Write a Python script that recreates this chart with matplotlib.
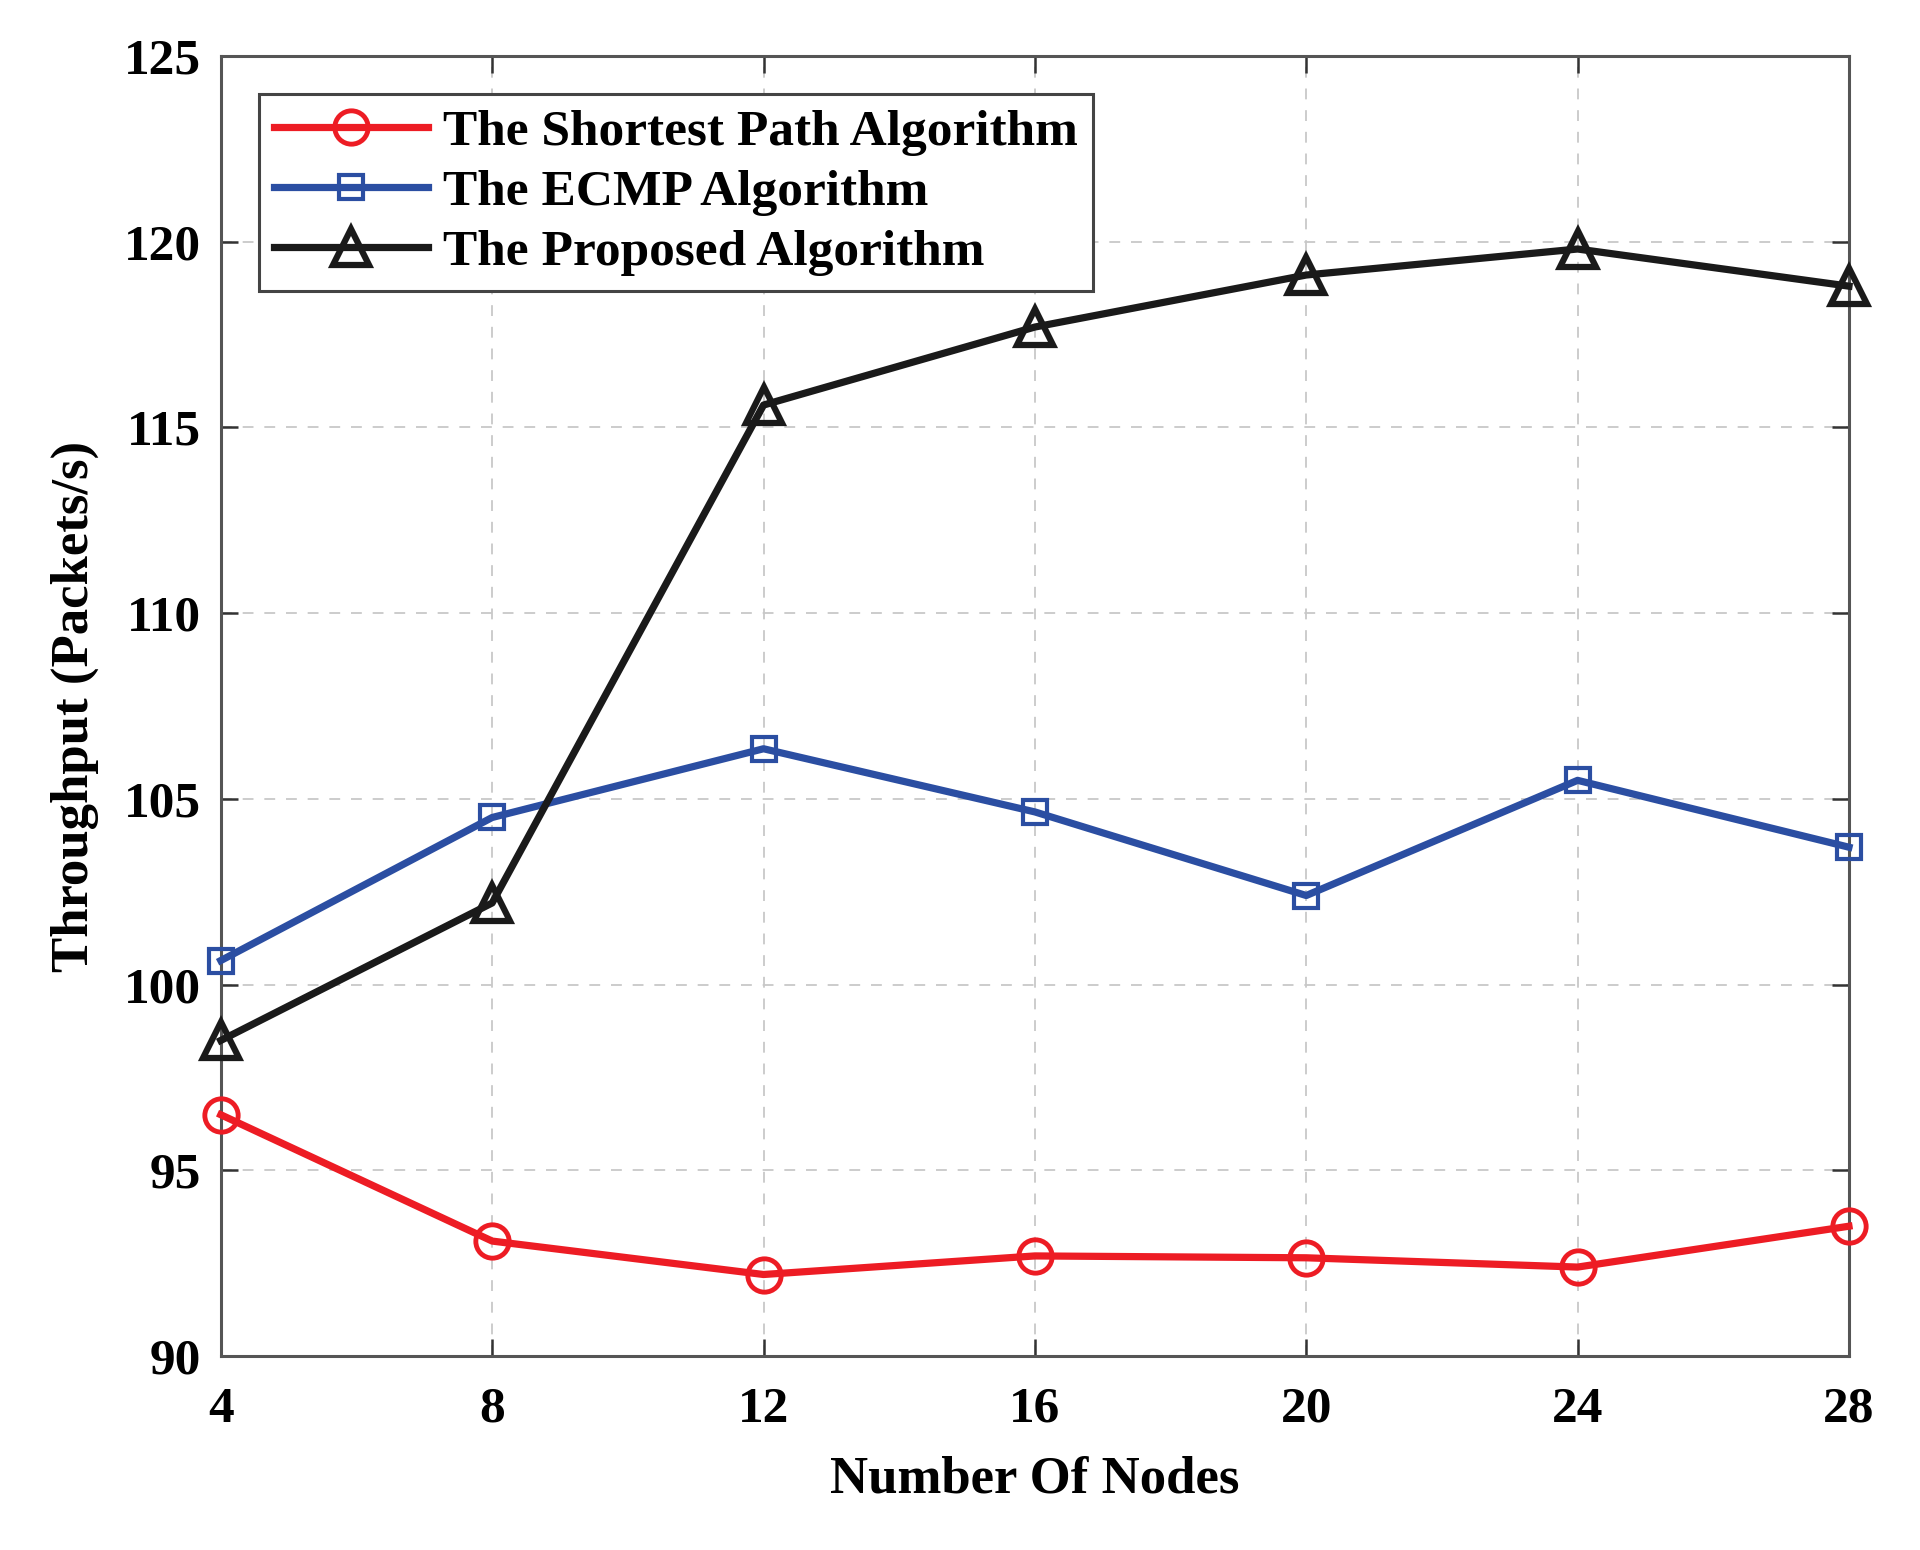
import matplotlib
matplotlib.use("Agg")
import matplotlib.pyplot as plt

nodes = [4, 8, 12, 16, 20, 24, 28]
shortest = [96.5, 93.1, 92.2, 92.7, 92.65, 92.4, 93.5]
ecmp = [100.65, 104.5, 106.35, 104.65, 102.4, 105.5, 103.7]
proposed = [98.5, 102.2, 115.6, 117.7, 119.1, 119.8, 118.8]
labels = ["The Shortest Path Algorithm", "The ECMP Algorithm", "The Proposed Algorithm"]
yticks = [90, 95, 100, 105, 110, 115, 120, 125]
xticks = [4, 8, 12, 16, 20, 24, 28]

plt.rcParams['font.family'] = ['Liberation Serif', 'DejaVu Serif']
plt.rcParams['font.weight'] = 'bold'

fig = plt.figure(figsize=(19.2, 15.5), dpi=100)
ax = fig.add_axes([0.115, 0.125, 0.848, 0.839])

ax.plot(nodes, shortest, color='#ED1C24', lw=5.2, marker='o', ms=24, mfc='none',
        mec='#ED1C24', mew=3.5, label=labels[0], zorder=3, clip_on=False)
ax.plot(nodes, ecmp, color='#2B4EA2', lw=5.2, marker='s', ms=17, mfc='none',
        mec='#2B4EA2', mew=3.0, label=labels[1], zorder=3, clip_on=False)
ax.plot(nodes, proposed, color='#1A1A1A', lw=5.2, marker='^', ms=26, mfc='none',
        mec='#1A1A1A', mew=4.5, label=labels[2], zorder=3, clip_on=False)

ax.set_xlim(4, 28)
ax.set_ylim(90, 125)
ax.set_xticks(xticks)
ax.set_yticks(yticks)
ax.grid(True, ls=(0, (6, 6)), color='#C8C8C8', lw=1.3)
ax.tick_params(direction='in', length=12, width=1.8, top=True, right=True,
               labelsize=37, color='#333333')
ax.tick_params(axis='x', pad=22)
ax.tick_params(axis='y', pad=14)
for lab in ax.get_xticklabels() + ax.get_yticklabels():
    lab.set_fontweight('bold')
for s in ax.spines.values():
    s.set_linewidth(2.2)
    s.set_color('#555555')

ax.set_xlabel("Number Of Nodes", fontsize=38, fontweight='bold', labelpad=16)
ax.set_ylabel("Throughput (Packets/s)", fontsize=38, fontweight='bold', labelpad=18)

leg = ax.legend(loc='upper left', fontsize=37, frameon=True, fancybox=False,
                framealpha=1, edgecolor='#444444', handlelength=3.0,
                handletextpad=0.3, labelspacing=0.26, borderaxespad=0.75,
                borderpad=0.28, prop={'weight': 'bold', 'size': 37})
leg.get_frame().set_linewidth(2.2)

fig.savefig("out.png", dpi=100, facecolor='white')
